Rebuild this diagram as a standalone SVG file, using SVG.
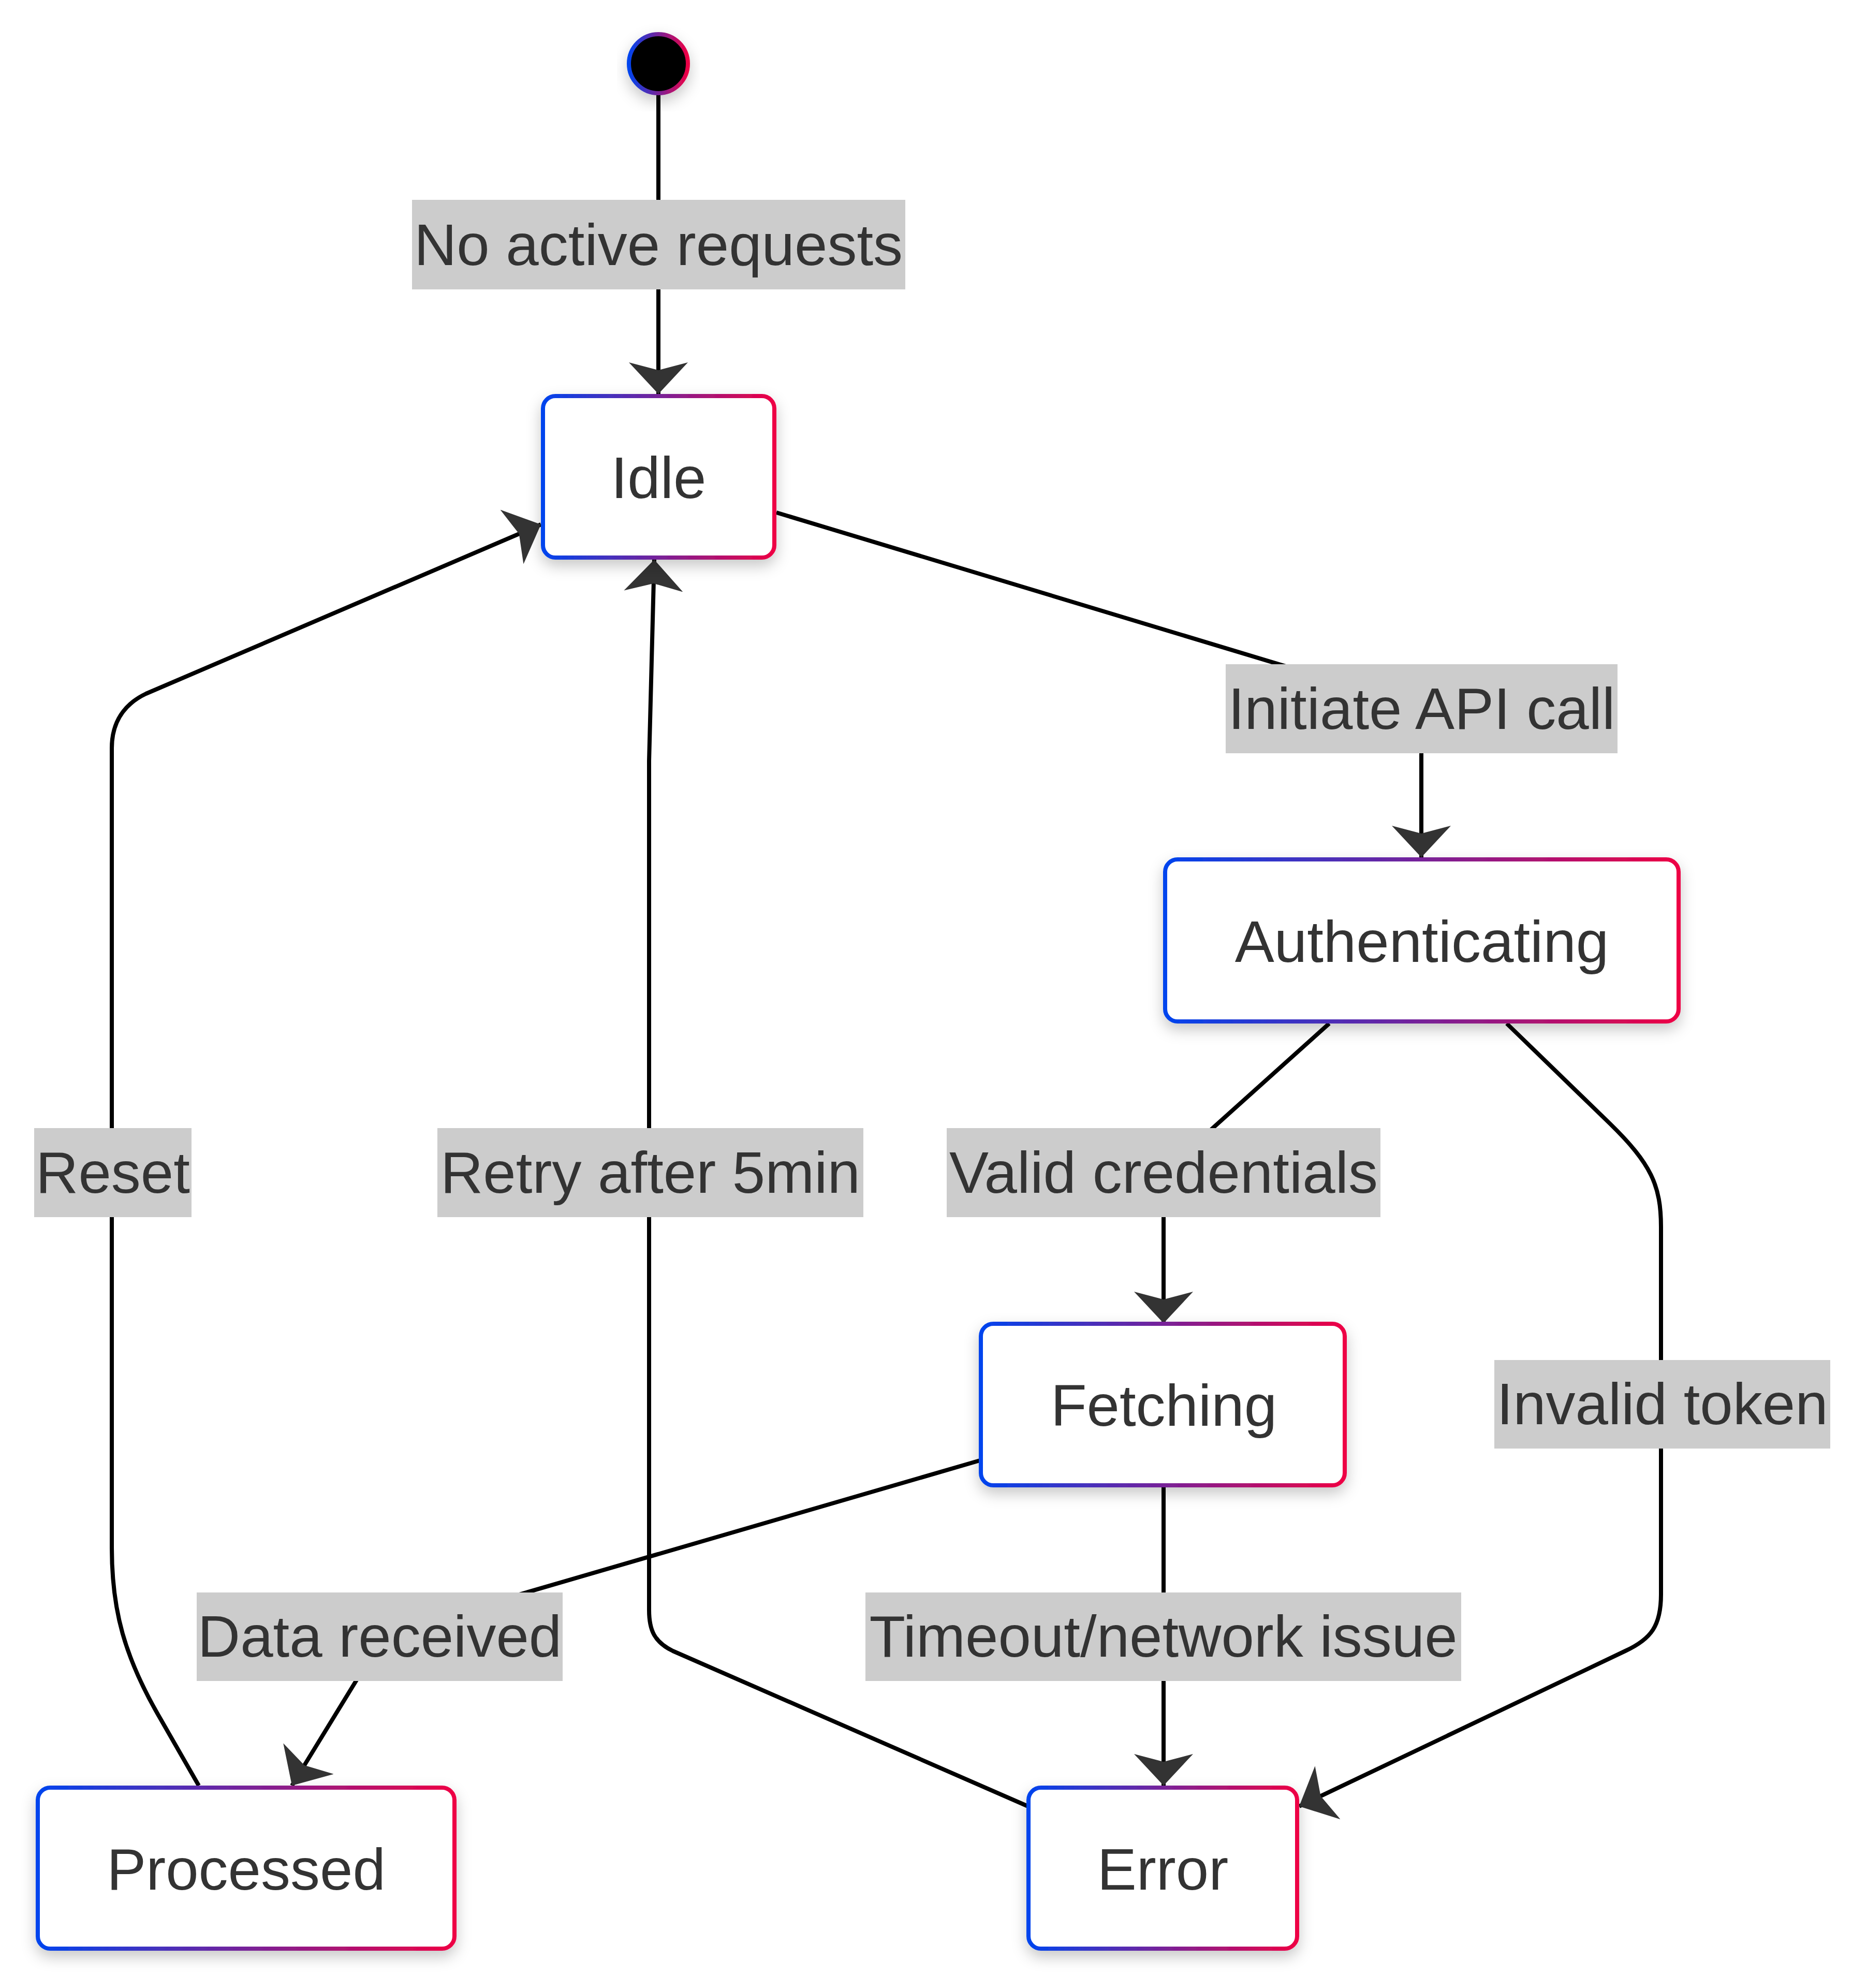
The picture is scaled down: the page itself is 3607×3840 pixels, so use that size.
<svg xmlns="http://www.w3.org/2000/svg" width="3607" height="3840" viewBox="0 0 3607 3840">
<defs>
<linearGradient id="grad" x1="0" y1="0" x2="1" y2="0" gradientUnits="objectBoundingBox">
<stop offset="0" stop-color="#0044ee"/>
<stop offset="1" stop-color="#ee0044"/>
</linearGradient>
<filter id="shadow" x="-20%" y="-20%" width="140%" height="150%">
<feDropShadow dx="0" dy="12" stdDeviation="14" flood-color="#000" flood-opacity="0.22"/>
</filter>
<marker id="arrow" viewBox="0 0 61 114" refX="61" refY="57" markerWidth="61" markerHeight="114" markerUnits="userSpaceOnUse" orient="auto">
<path d="M61,57 L0,0 L15,57 L0,114 Z" fill="#333333"/>
</marker>
<style>
.edge{fill:none;stroke:#000;stroke-width:8;marker-end:url(#arrow);}
.lbg{fill:#cccccc;}
.ltx{font-family:"Liberation Sans",Arial,sans-serif;font-size:114px;fill:#333333;text-anchor:middle;}
.node rect{fill:#ffffff;stroke:url(#grad);stroke-width:8;filter:url(#shadow);}
.node text{font-family:"Liberation Sans",Arial,sans-serif;font-size:114px;fill:#333333;text-anchor:middle;}
</style>
</defs>
<rect x="0" y="0" width="3607" height="3840" fill="#ffffff"/>

<g id="connectors">
<path id="e-start-idle" class="edge" d="M1272,183 L1272,761"/>
<path id="e-idle-auth" class="edge" d="M1500,990 L2600,1322 Q2746,1366 2746,1430 L2746,1656"/>
<path id="e-auth-fetch" class="edge" d="M2568,1977 L2343,2179 Q2248,2264 2248,2320 L2248,2556"/>
<path id="e-auth-error" class="edge" d="M2911,1977 L3110,2170 C3190,2248 3209,2290 3209,2370 L3209,3080 C3209,3140 3190,3166 3140,3189 L2510,3489"/>
<path id="e-fetch-proc" class="edge" d="M1893,2821 L900,3110 Q740,3157 700,3227 L564,3449"/>
<path id="e-fetch-error" class="edge" d="M2248,2872 L2248,3449"/>
<path id="e-error-idle" class="edge" d="M1986,3489 L1300,3189 C1265,3172 1254,3150 1254,3110 L1254,1470 L1264,1081"/>
<path id="e-proc-idle" class="edge" d="M384,3449 L310,3320 C240,3200 216,3110 216,2990 L216,1445 C216,1395 240,1360 282,1340 L1045,1013"/>
</g>

<g id="edge-labels">
<g id="l-start-idle"><rect class="lbg" x="796" y="386" width="953" height="173"/><text class="ltx" x="1272" y="512">No active requests</text></g>
<g id="l-idle-auth"><rect class="lbg" x="2368" y="1283" width="757" height="172"/><text class="ltx" x="2746.5" y="1408">Initiate API call</text></g>
<g id="l-auth-fetch"><rect class="lbg" x="1829" y="2179" width="838" height="172"/><text class="ltx" x="2248" y="2304">Valid credentials</text></g>
<g id="l-auth-error"><rect class="lbg" x="2887" y="2627" width="649" height="171"/><text class="ltx" x="3211.5" y="2751">Invalid token</text></g>
<g id="l-error-idle"><rect class="lbg" x="845" y="2179" width="823" height="172"/><text class="ltx" x="1256.5" y="2304">Retry after 5min</text></g>
<g id="l-proc-idle"><rect class="lbg" x="66" y="2179" width="304" height="172"/><text class="ltx" x="218" y="2304">Reset</text></g>
<g id="l-fetch-proc"><rect class="lbg" x="380" y="3076" width="707" height="171"/><text class="ltx" x="733.5" y="3200">Data received</text></g>
<g id="l-fetch-error"><rect class="lbg" x="1672" y="3076" width="1151" height="171"/><text class="ltx" x="2247.5" y="3200">Timeout/network issue</text></g>
</g>

<g id="start" class="node">
<circle cx="1272" cy="123" r="57" fill="#000000" stroke="url(#grad)" stroke-width="8" filter="url(#shadow)"/>
</g>
<g id="Idle" class="node">
<rect x="1049" y="765" width="447" height="312" rx="24" ry="24"/>
<text x="1272.5" y="962">Idle</text>
</g>
<g id="Authenticating" class="node">
<rect x="2251" y="1660" width="992" height="313" rx="24" ry="24"/>
<text x="2747" y="1858">Authenticating</text>
</g>
<g id="Fetching" class="node">
<rect x="1895" y="2557" width="703" height="312" rx="24" ry="24"/>
<text x="2248.5" y="2754">Fetching</text>
</g>
<g id="Processed" class="node">
<rect x="73" y="3453" width="805" height="311" rx="24" ry="24"/>
<text x="475.5" y="3650">Processed</text>
</g>
<g id="Error" class="node">
<rect x="1987" y="3453" width="519" height="311" rx="24" ry="24"/>
<text x="2246.5" y="3650">Error</text>
</g>
</svg>
